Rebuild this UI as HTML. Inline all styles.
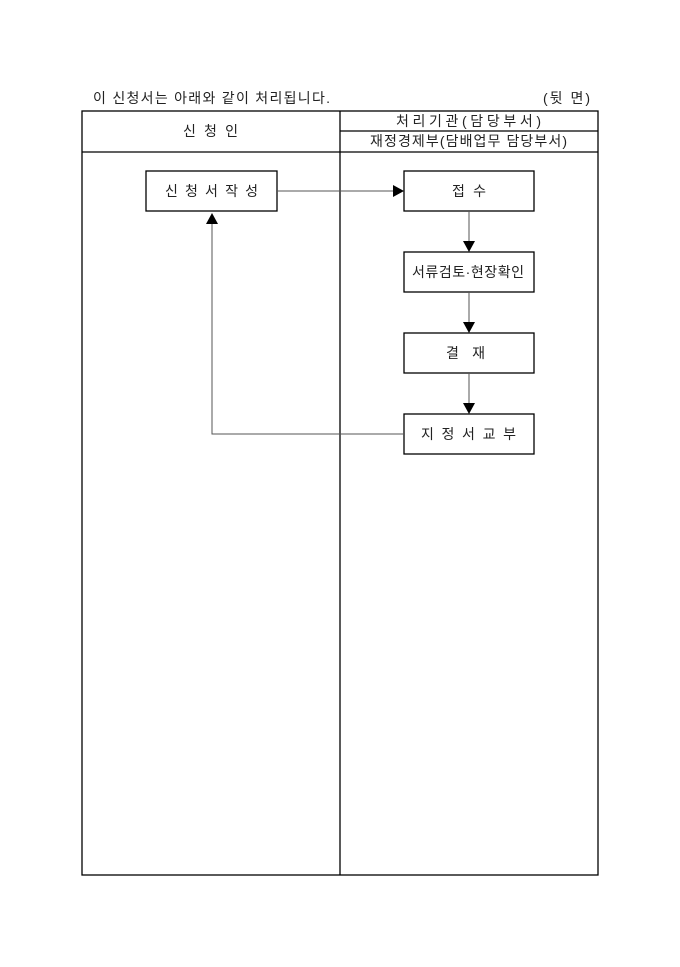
<!DOCTYPE html>
<html><head><meta charset="utf-8"><style>
body{margin:0;background:#fff;width:680px;height:962px;overflow:hidden}
svg text{font-family:"Liberation Sans","Noto Sans CJK KR",sans-serif;font-size:14px;fill:#222}
</style></head><body>
<svg width="680" height="962" xmlns="http://www.w3.org/2000/svg">
<text x="93" y="103" textLength="237" lengthAdjust="spacing">이 신청서는 아래와 같이 처리됩니다.</text>
<text x="543" y="103" textLength="47" lengthAdjust="spacing">(뒷 면)</text>
<g fill="none" stroke="#000" stroke-width="1.3">
<rect x="82" y="111" width="516" height="764"/>
<line x1="340" y1="111" x2="340" y2="875"/>
<line x1="340" y1="131" x2="598" y2="131"/>
<line x1="82" y1="152" x2="598" y2="152"/>
<rect x="146" y="171" width="131" height="40"/>
<rect x="404" y="171" width="130" height="40"/>
<rect x="404" y="252" width="130" height="40"/>
<rect x="404" y="333" width="130" height="40"/>
<rect x="404" y="414" width="130" height="40"/>
</g>
<g fill="none" stroke="#555" stroke-width="1">
<line x1="277" y1="191" x2="394" y2="191"/>
<line x1="469" y1="211" x2="469" y2="242"/>
<line x1="469" y1="292" x2="469" y2="323"/>
<line x1="469" y1="373" x2="469" y2="404"/>
<polyline points="404,434 212,434 212,222"/>
</g>
<g fill="#000">
<polygon points="393,185 404,191 393,197"/>
<polygon points="463,241 475,241 469,252"/>
<polygon points="463,322 475,322 469,333"/>
<polygon points="463,403 475,403 469,414"/>
<polygon points="206,224 218,224 212,213"/>
</g>
<text x="183" y="136" textLength="55" lengthAdjust="spacing">신 청 인</text>
<text x="396" y="126" textLength="145" lengthAdjust="spacing">처리기관(담당부서)</text>
<text x="370" y="146" textLength="197" lengthAdjust="spacing">재정경제부(담배업무 담당부서)</text>
<text x="165" y="196" textLength="93" lengthAdjust="spacing">신 청 서 작 성</text>
<text x="452" y="196" textLength="34" lengthAdjust="spacing">접 수</text>
<text x="412" y="277" textLength="112" lengthAdjust="spacing">서류검토·현장확인</text>
<text x="446" y="358" textLength="39" lengthAdjust="spacing">결 재</text>
<text x="421" y="439" textLength="95" lengthAdjust="spacing">지 정 서 교 부</text>
</svg>
</body></html>
